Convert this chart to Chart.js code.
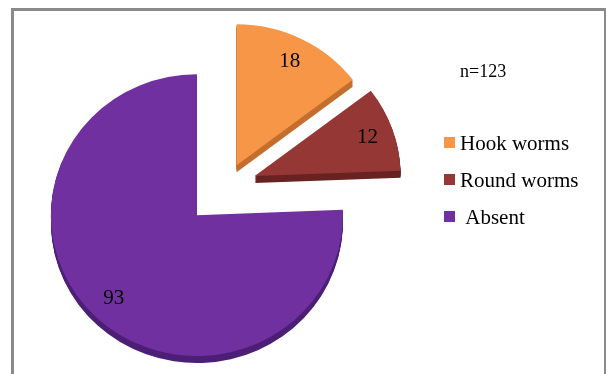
<!DOCTYPE html>
<html>
<head>
<meta charset="utf-8">
<script src="https://cdn.jsdelivr.net/npm/chart.js@4.4.0/dist/chart.umd.min.js"></script>
<style>
  html, body { margin: 0; padding: 0; background: #fff; }
  canvas { display: block; }
</style>
</head>
<body>
<canvas id="worms" width="607" height="374"></canvas>
<script>
const categories = ['Hook worms', 'Round worms', ' Absent'];
const counts = [18, 12, 93];
const sliceColors = ['#F79646', '#953735', '#7030A0'];
const sideColors = ['#C46E2E', '#682222', '#4C1E76'];
// how far each slice is pulled out of the pie, px
const pull = [24, 30.5, 42];

const sampleSize = counts.reduce((a, b) => a + b, 0);
const R = 146;
const TILT = 0.965;   // vertical squash of the pie
const DEPTH = 7;
const SERIF = '"Liberation Serif", "Times New Roman", serif';

// grey box round the whole figure
const frame = {
  id: 'frame',
  beforeDraw(chart) {
    const ctx = chart.ctx;
    ctx.save();
    ctx.fillStyle = '#8a8a8a';
    ctx.fillRect(11, 8, 595, 3);
    ctx.fillRect(11, 8, 3, 374);
    ctx.fillRect(604, 8, 2, 374);
    ctx.restore();
  }
};

function pieCenter(chart) {
  const a = chart.chartArea;
  return { x: (a.left + a.right) / 2, y: (a.top + a.bottom) / 2 };
}

// explode the slices, tilt the pie and give every slice a thick side.
// (the built-in offset option also shrinks big slices' angles, so the
// slices are moved here instead)
const slab = {
  id: 'slab',
  beforeDatasetsDraw(chart) {
    const ctx = chart.ctx;
    const c = pieCenter(chart);
    const arcs = chart.getDatasetMeta(0).data;
    ctx.save();
    ctx.translate(0, c.y * (1 - TILT));
    ctx.scale(1, TILT);
    arcs.forEach((arc, i) => {
      const half = (arc.startAngle + arc.endAngle) / 2;
      arc.x = c.x + Math.cos(half) * pull[i];
      arc.y = c.y + Math.sin(half) * pull[i];
      ctx.fillStyle = sideColors[i];
      for (let d = 1; d <= DEPTH; d++) {
        const dy = d / TILT;
        ctx.beginPath();
        ctx.moveTo(arc.x, arc.y + dy);
        ctx.arc(arc.x, arc.y + dy, R, arc.startAngle, arc.endAngle);
        ctx.closePath();
        ctx.fill();
      }
    });
  },
  afterDatasetsDraw(chart) {
    chart.ctx.restore();
  }
};

// counts on the slices, sample size and the legend
const notes = {
  id: 'notes',
  afterDatasetsDraw(chart) {
    const ctx = chart.ctx;
    const arcs = chart.getDatasetMeta(0).data;
    const yc = pieCenter(chart).y;
    ctx.save();
    ctx.fillStyle = '#000';
    ctx.font = '21px ' + SERIF;
    ctx.textAlign = 'center';
    ctx.textBaseline = 'middle';
    arcs.forEach((arc, i) => {
      const half = (arc.startAngle + arc.endAngle) / 2;
      const x = arc.x + Math.cos(half) * R * 0.82;
      const y = arc.y + Math.sin(half) * R * 0.82;
      ctx.fillText(String(counts[i]), x, yc + (y - yc) * TILT);
    });

    ctx.textAlign = 'left';
    ctx.textBaseline = 'alphabetic';
    ctx.font = '18px ' + SERIF;
    ctx.fillText('n=' + sampleSize, 460, 77);

    ctx.font = '21px ' + SERIF;
    categories.forEach((name, i) => {
      const top = 137 + i * 37;
      ctx.fillStyle = sliceColors[i];
      ctx.fillRect(444, top, 11, 11);
      ctx.fillStyle = '#000';
      ctx.fillText(name, 460, top + 13);
    });
    ctx.restore();
  }
};

new Chart('worms', {
  type: 'pie',
  data: {
    labels: categories,
    datasets: [{
      data: counts,
      backgroundColor: sliceColors,
      borderWidth: 0,
      hoverOffset: 0,
      radius: R,
      clip: false
    }]
  },
  options: {
    responsive: false,
    animation: false,
    devicePixelRatio: 1,
    layout: { padding: { left: 20, right: 175, top: 10, bottom: 12 } },
    plugins: {
      legend: { display: false },
      tooltip: { enabled: false }
    }
  },
  plugins: [frame, slab, notes]
});
</script>
</body>
</html>
